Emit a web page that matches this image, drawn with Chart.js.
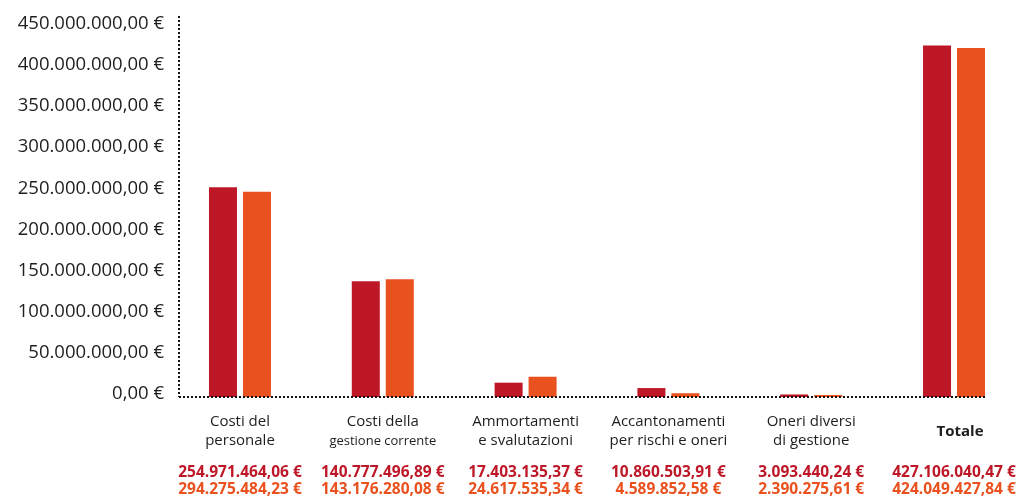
<!DOCTYPE html>
<html lang="it">
<head>
<meta charset="UTF-8">
<title>Costi</title>
<script src="https://cdn.jsdelivr.net/npm/chart.js"></script>
<style>
  body { margin: 0; background: #fff; }
  #wrap { width: 1024px; height: 497px; position: relative; }
</style>
</head>
<body>
<div id="wrap"><canvas id="costChart"></canvas></div>
<script>
// categories (multi-line labels)
const categories = [
  ["Costi del", "personale"],
  ["Costi della", "gestione corrente"],
  ["Ammortamenti", "e svalutazioni"],
  ["Accantonamenti", "per rischi e oneri"],
  ["Oneri diversi", "di gestione"],
  ["Totale"]
];

// bar values (€)
const redValues = [254971464.06, 140777496.89, 17403135.37, 10860503.91, 3093440.24, 427106040.47];
const orangeValues = [249275484.23, 143176280.08, 24617535.34, 4589852.58, 2390275.61, 424049427.84];

// value labels as printed under each category
const redLabels = ["254.971.464,06 €", "140.777.496,89 €", "17.403.135,37 €", "10.860.503,91 €", "3.093.440,24 €", "427.106.040,47 €"];
const orangeLabels = ["294.275.484,23 €", "143.176.280,08 €", "24.617.535,34 €", "4.589.852,58 €", "2.390.275,61 €", "424.049.427,84 €"];

// y axis ticks
const yTicks = [0, 50000000, 100000000, 150000000, 200000000, 250000000, 300000000, 350000000, 400000000, 450000000];

const RED = "#be1828";
const ORANGE = "#e9511e";
const FONT = "'Open Sans', sans-serif";

function euro(v) {
  let parts = v.toFixed(2).split(".");
  let intPart = parts[0].replace(/\B(?=(\d{3})+(?!\d))/g, ".");
  return intPart + "," + parts[1] + " €";
}

// dotted axis lines, drawn over the bars
const dottedAxes = {
  id: "dottedAxes",
  afterDatasetsDraw(chart) {
    const ctx = chart.ctx;
    const a = chart.chartArea;
    ctx.save();
    ctx.strokeStyle = "#111";
    ctx.lineWidth = 2;
    ctx.setLineDash([2, 2]);
    ctx.beginPath();
    ctx.moveTo(a.left, a.top);
    ctx.lineTo(a.left, a.bottom);
    ctx.moveTo(a.left, a.bottom);
    ctx.lineTo(a.right, a.bottom);
    ctx.stroke();
    ctx.restore();
  }
};

// draws category names and the two value rows under the axis
const bottomLabels = {
  id: "bottomLabels",
  afterDraw(chart) {
    const ctx = chart.ctx;
    const x = chart.scales.x;
    ctx.save();
    ctx.textAlign = "center";
    ctx.textBaseline = "middle";
    categories.forEach((lines, i) => {
      let cx = x.getPixelForValue(i);
      ctx.fillStyle = "#1e1e1e";
      if (lines.length === 1) {
        ctx.font = "bold 15px " + FONT;
        ctx.fillText(lines[0], cx + 6, 432);
      } else {
        ctx.font = "15px " + FONT;
        ctx.fillText(lines[0], cx, 422);
        ctx.font = (i === 1 ? "13px " : "15px ") + FONT;
        ctx.fillText(lines[1], cx, 441);
      }
      ctx.font = "bold 15.5px " + FONT;
      ctx.fillStyle = RED;
      ctx.fillText(redLabels[i], cx, 473);
      ctx.fillStyle = ORANGE;
      ctx.fillText(orangeLabels[i], cx, 490);
    });
    ctx.restore();
  }
};

new Chart(document.getElementById("costChart"), {
  type: "bar",
  data: {
    datasets: [
      {
        label: "A",
        data: redValues.map((v, i) => ({ x: i, y: v })),
        backgroundColor: RED,
        borderWidth: 0
      },
      {
        label: "B",
        data: orangeValues.map((v, i) => ({ x: i, y: v })),
        backgroundColor: ORANGE,
        borderWidth: 0
      }
    ]
  },
  options: {
    responsive: true,
    maintainAspectRatio: false,
    animation: false,
    categoryPercentage: 0.476,
    barPercentage: 0.824,
    layout: { padding: { top: 16, right: 37, bottom: 100, left: 0 } },
    plugins: {
      legend: { display: false },
      tooltip: { enabled: false }
    },
    scales: {
      x: {
        type: "linear",
        offset: false,
        min: -0.427,
        max: 5.231,
        grid: { display: false, drawTicks: false },
        border: { display: false },
        ticks: { display: false }
      },
      y: {
        min: 0,
        max: 463000000,
        grid: { display: false, drawTicks: false },
        border: { display: false },
        afterFit: s => { s.width = 179; s.paddingTop = 0; s.paddingBottom = 0; },
        afterBuildTicks: s => { s.ticks = yTicks.map(v => ({ value: v })); },
        ticks: {
          padding: 15,
          labelOffset: -3,
          color: "#1e1e1e",
          font: { family: FONT, size: 18.5 },
          callback: v => euro(v)
        }
      }
    }
  },
  plugins: [dottedAxes, bottomLabels]
});
</script>
</body>
</html>
